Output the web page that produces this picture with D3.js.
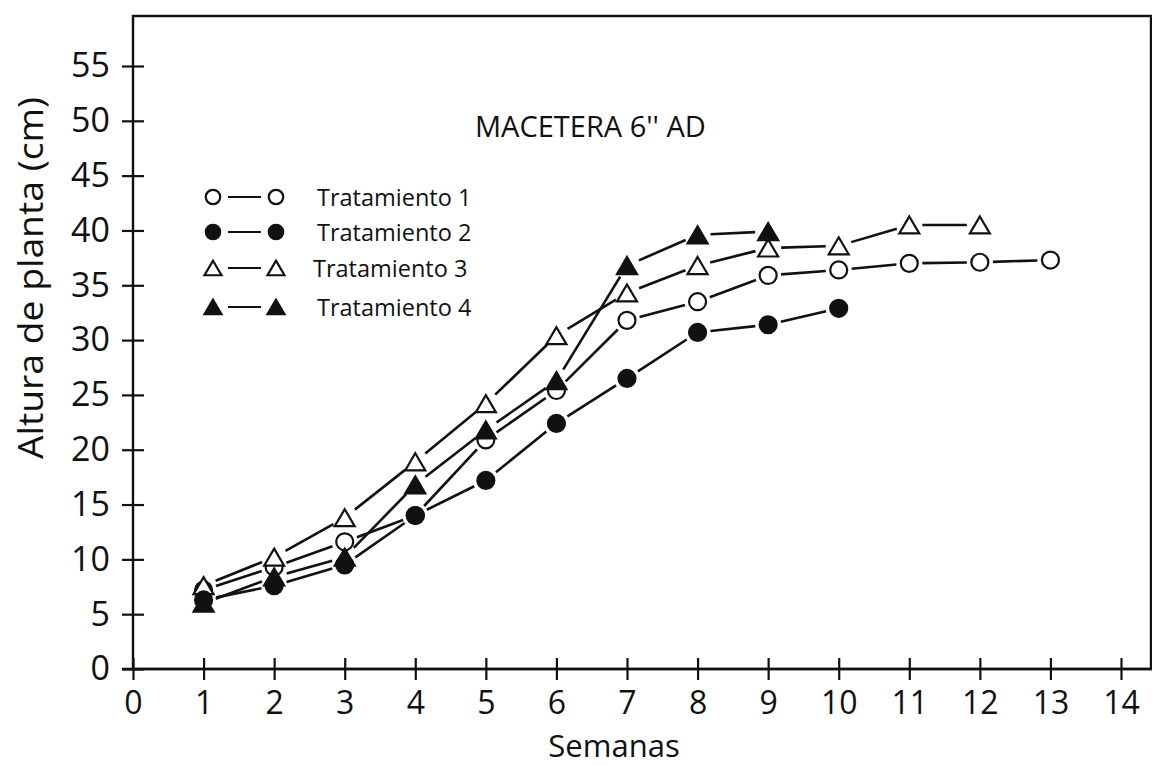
<!DOCTYPE html>
<html>
<head>
<meta charset="utf-8">
<script src="https://cdn.jsdelivr.net/npm/d3@7"></script>
<style>
  html, body { margin: 0; padding: 0; background: #ffffff; }
  svg { display: block; }
  text { font-family: "Open Sans", "DejaVu Sans", sans-serif; fill: #111; }
</style>
</head>
<body>
<svg id="chart" width="1152" height="766"></svg>
<script>
// ---- Data ----
const title = "MACETERA 6'' AD";
const xLabel = "Semanas";
const yLabel = "Altura de planta (cm)";
const xTicks = [0,1,2,3,4,5,6,7,8,9,10,11,12,13,14];
const yTicks = [0,5,10,15,20,25,30,35,40,45,50,55];
const seriesNames = ["Tratamiento 1", "Tratamiento 2", "Tratamiento 3", "Tratamiento 4"];
const weeks1 = [1,2,3,4,5,6,7,8,9,10,11,12,13];
const values1 = [7.2, 9.3, 11.6, 14.0, 20.9, 25.4, 31.8, 33.5, 35.9, 36.4, 37.0, 37.1, 37.3];
const weeks2 = [1,2,3,4,5,6,7,8,9,10];
const values2 = [6.3, 7.6, 9.5, 14.0, 17.2, 22.4, 26.5, 30.7, 31.4, 32.9];
const weeks3 = [1,2,3,4,5,6,7,8,9,10,11,12];
const values3 = [7.6, 10.2, 13.8, 18.9, 24.2, 30.4, 34.3, 36.8, 38.4, 38.6, 40.5, 40.5];
const weeks4 = [1,2,3,4,5,6,7,8,9];
const values4 = [6.0, 8.4, 10.2, 16.8, 21.8, 26.3, 36.8, 39.6, 39.9];

// ---- Layout ----
const svg = d3.select("#chart");
const x = d3.scaleLinear().domain([0, 14]).range([133, 1121]);
const y = d3.scaleLinear().domain([0, 55]).range([669, 66]);
const ink = "#111";

const series = [
  { name: seriesNames[0], shape: "circle",   filled: false, pts: weeks1.map((w,i)=>({w, v: values1[i]})) },
  { name: seriesNames[1], shape: "circle",   filled: true,  pts: weeks2.map((w,i)=>({w, v: values2[i]})) },
  { name: seriesNames[2], shape: "triangle", filled: false, pts: weeks3.map((w,i)=>({w, v: values3[i]})) },
  { name: seriesNames[3], shape: "triangle", filled: true,  pts: weeks4.map((w,i)=>({w, v: values4[i]})) }
];

// frame
svg.append("rect")
  .attr("x", x(0)).attr("y", 16)
  .attr("width", 1151 - x(0)).attr("height", y(0) - 16)
  .attr("fill", "none").attr("stroke", ink).attr("stroke-width", 2.4);

// x axis line extension to the left
svg.append("line").attr("x1", x(0) - 11).attr("x2", 1152)
  .attr("y1", y(0)).attr("y2", y(0)).attr("stroke", ink).attr("stroke-width", 2.4);

// Y axis
const gy = svg.append("g").attr("transform", `translate(${x(0)},0)`)
  .call(d3.axisLeft(y).tickValues(yTicks).tickSize(11).tickPadding(12).tickFormat(d3.format("d")));
gy.select(".domain").remove();
gy.selectAll(".tick line").attr("x1", -11).attr("x2", 11).attr("stroke", ink).attr("stroke-width", 2.2);
gy.selectAll(".tick text").attr("font-size", 34).attr("font-family", "Open Sans").attr("fill", ink);

// X axis
const gx = svg.append("g").attr("transform", `translate(0,${y(0)})`)
  .call(d3.axisBottom(x).tickValues(xTicks).tickSize(11).tickPadding(11).tickFormat(d3.format("d")));
gx.select(".domain").remove();
gx.selectAll(".tick line").attr("y1", -11).attr("y2", 11).attr("stroke", ink).attr("stroke-width", 2.2);
gx.selectAll(".tick text").attr("font-size", 32).attr("font-family", "Open Sans").attr("fill", ink);

// axis titles
svg.append("text").attr("x", 614).attr("y", 757).attr("text-anchor", "middle")
  .attr("font-size", 31).text(xLabel);
svg.append("text").attr("transform", "translate(43,278) rotate(-90)").attr("text-anchor", "middle")
  .attr("font-size", 34).attr("textLength", 362).attr("lengthAdjust", "spacingAndGlyphs").text(yLabel);

// chart title
svg.append("text").attr("x", 475).attr("y", 137).attr("font-size", 29).text(title);

// marker shapes
function triPath(w, h) {
  return `M0,${-h/2}L${w/2},${h/2}L${-w/2},${h/2}Z`;
}
function drawMarker(g, s, cx, cy, scale) {
  if (s.shape === "circle") {
    g.append("circle").attr("cx", cx).attr("cy", cy).attr("r", 8.5 * scale)
      .attr("fill", s.filled ? ink : "#fff").attr("stroke", ink).attr("stroke-width", 2.2);
  } else {
    g.append("path").attr("d", triPath(20 * scale, 17 * scale))
      .attr("transform", `translate(${cx},${cy})`)
      .attr("fill", s.filled ? ink : "#fff").attr("stroke", ink).attr("stroke-width", 2.2)
      .attr("stroke-linejoin", "miter");
  }
}

// lines with gaps around markers
const gap = 13;
const linesG = svg.append("g");
series.forEach(s => {
  for (let i = 0; i < s.pts.length - 1; i++) {
    const x1 = x(s.pts[i].w), y1 = y(s.pts[i].v);
    const x2 = x(s.pts[i+1].w), y2 = y(s.pts[i+1].v);
    const dx = x2 - x1, dy = y2 - y1, L = Math.hypot(dx, dy);
    const ux = dx / L, uy = dy / L;
    linesG.append("line")
      .attr("x1", x1 + ux * gap).attr("y1", y1 + uy * gap)
      .attr("x2", x2 - ux * gap).attr("y2", y2 - uy * gap)
      .attr("stroke", ink).attr("stroke-width", 2.6);
  }
});

// markers: open first, filled on top
const markG = svg.append("g");
[series[0], series[2], series[1], series[3]].forEach(s => {
  s.pts.forEach(p => drawMarker(markG, s, x(p.w), y(p.v), 1));
});

// legend
const legendY = [197, 232, 268, 307];
const legendTextX = [317, 317, 313, 317];
const lg = svg.append("g");
series.forEach((s, i) => {
  const ly = legendY[i];
  drawMarker(lg, s, 213, ly, 0.85);
  lg.append("line").attr("x1", 228).attr("x2", 261).attr("y1", ly).attr("y2", ly)
    .attr("stroke", ink).attr("stroke-width", 2.2);
  drawMarker(lg, s, 276, ly, 0.85);
  lg.append("text").attr("x", legendTextX[i]).attr("y", ly + 8.5)
    .attr("font-size", 23.5).text(s.name);
});
</script>
</body>
</html>
